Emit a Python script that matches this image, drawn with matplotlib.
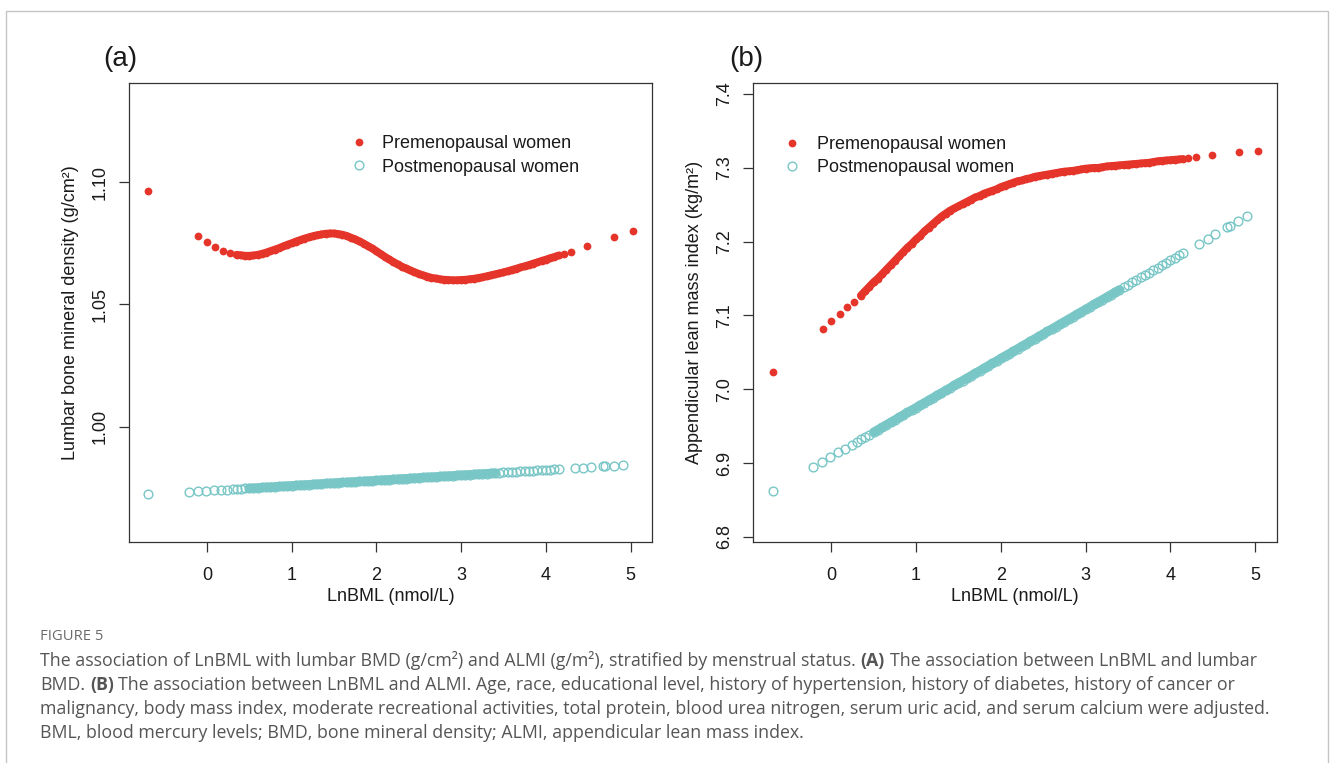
import matplotlib
matplotlib.use('Agg')
import matplotlib.pyplot as plt
from matplotlib.patches import Rectangle
from matplotlib import font_manager

# ---------------- data ----------------
# LnBML sample positions shared by both panels
x_dense = [0.35, 0.40, 0.45, 0.50, 0.55, 0.60, 0.65, 0.70, 0.75, 0.80,
           0.85, 0.90, 0.95, 1.00, 1.05, 1.10, 1.15, 1.20, 1.25, 1.30,
           1.35, 1.40, 1.45, 1.50, 1.55, 1.60, 1.65, 1.70, 1.75, 1.80,
           1.85, 1.90, 1.95, 2.00, 2.05, 2.10, 2.15, 2.20, 2.25, 2.30,
           2.35, 2.40, 2.45, 2.50, 2.55, 2.60, 2.65, 2.70, 2.75, 2.80,
           2.85, 2.90, 2.95, 3.00, 3.05, 3.10, 3.15, 3.20, 3.25, 3.30,
           3.35, 3.40, 3.45, 3.50, 3.55, 3.60, 3.65, 3.70, 3.75, 3.80,
           3.85, 3.90, 3.95, 4.00, 4.05, 4.10, 4.15]
x_pre_left = [-0.69, -0.10, 0.00, 0.10, 0.19, 0.27]
x_pre_right = [4.21, 4.30, 4.49, 4.81, 5.03]
x_post_left = [-0.69, -0.21, -0.105, -0.01, 0.085, 0.167, 0.242, 0.307]
x_post_right = [4.34, 4.44, 4.53, 4.67, 4.70, 4.80, 4.905]

# Panel (a): lumbar BMD
bmd_pre_left = [1.0962, 1.0778, 1.0754, 1.0733, 1.0720, 1.0709]
bmd_pre_dense = [1.0703, 1.0701, 1.0699, 1.0699, 1.0700, 1.0703, 1.0707, 1.0712, 1.0718, 1.0724,
                 1.0730, 1.0737, 1.0744, 1.0750, 1.0757, 1.0763, 1.0769, 1.0774, 1.0779, 1.0783,
                 1.0786, 1.0789, 1.0790, 1.0790, 1.0788, 1.0785, 1.0780, 1.0773, 1.0766, 1.0758,
                 1.0749, 1.0739, 1.0729, 1.0718, 1.0706, 1.0695, 1.0684, 1.0674, 1.0664, 1.0655,
                 1.0647, 1.0639, 1.0632, 1.0625, 1.0619, 1.0614, 1.0609, 1.0606, 1.0603, 1.0601,
                 1.0600, 1.0599, 1.0599, 1.0600, 1.0601, 1.0603, 1.0605, 1.0608, 1.0611, 1.0615,
                 1.0619, 1.0623, 1.0627, 1.0631, 1.0636, 1.0641, 1.0646, 1.0651, 1.0656, 1.0661,
                 1.0667, 1.0672, 1.0678, 1.0683, 1.0689, 1.0694, 1.0700]
bmd_pre_right = [1.0706, 1.0716, 1.0739, 1.0777, 1.0801]
bmd_post_left = [0.97233, 0.97336, 0.97358, 0.97379, 0.97399, 0.97417, 0.97433, 0.97447]
bmd_post_dense = [0.97456, 0.97467, 0.97478, 0.97488, 0.97499, 0.97510, 0.97520, 0.97531, 0.97542, 0.97553,
                  0.97563, 0.97574, 0.97585, 0.97596, 0.97606, 0.97617, 0.97628, 0.97639, 0.97649, 0.97660,
                  0.97671, 0.97681, 0.97692, 0.97703, 0.97714, 0.97724, 0.97735, 0.97746, 0.97757, 0.97767,
                  0.97778, 0.97789, 0.97799, 0.97810, 0.97821, 0.97832, 0.97842, 0.97853, 0.97864, 0.97875,
                  0.97885, 0.97896, 0.97907, 0.97918, 0.97928, 0.97939, 0.97950, 0.97960, 0.97971, 0.97982,
                  0.97993, 0.98003, 0.98014, 0.98025, 0.98036, 0.98046, 0.98057, 0.98068, 0.98078, 0.98089,
                  0.98100, 0.98111, 0.98121, 0.98132, 0.98143, 0.98154, 0.98164, 0.98175, 0.98186, 0.98196,
                  0.98207, 0.98218, 0.98229, 0.98239, 0.98250, 0.98261, 0.98272]
bmd_post_right = [0.98312, 0.98334, 0.98353, 0.98383, 0.98390, 0.98411, 0.98434]

# Panel (b): ALMI
almi_pre_left = [7.023, 7.082, 7.092, 7.102, 7.111, 7.118]
almi_pre_dense = [7.127, 7.133, 7.139, 7.145, 7.150, 7.156, 7.162, 7.168, 7.174, 7.180,
                  7.186, 7.192, 7.197, 7.203, 7.208, 7.214, 7.219, 7.224, 7.229, 7.234,
                  7.238, 7.242, 7.245, 7.248, 7.251, 7.254, 7.257, 7.260, 7.262, 7.265,
                  7.267, 7.269, 7.271, 7.274, 7.276, 7.278, 7.280, 7.282, 7.283, 7.285,
                  7.286, 7.288, 7.289, 7.290, 7.291, 7.292, 7.293, 7.294, 7.295, 7.2955,
                  7.296, 7.297, 7.298, 7.299, 7.2995, 7.300, 7.300, 7.301, 7.302, 7.3025,
                  7.303, 7.3035, 7.304, 7.3045, 7.305, 7.3055, 7.306, 7.3065, 7.307, 7.308,
                  7.309, 7.3095, 7.310, 7.3105, 7.311, 7.3115, 7.312]
almi_pre_right = [7.3135, 7.315, 7.317, 7.321, 7.323]
almi_post_left = [6.8627, 6.8946, 6.9016, 6.9079, 6.9143, 6.9197, 6.9247, 6.9290]
almi_post_dense = [6.9319, 6.9352, 6.9386, 6.9419, 6.9452, 6.9485, 6.9519, 6.9552, 6.9585, 6.9619,
                   6.9652, 6.9685, 6.9718, 6.9752, 6.9785, 6.9818, 6.9852, 6.9885, 6.9918, 6.9951,
                   6.9985, 7.0018, 7.0051, 7.0085, 7.0118, 7.0151, 7.0184, 7.0218, 7.0251, 7.0284,
                   7.0318, 7.0351, 7.0384, 7.0417, 7.0451, 7.0484, 7.0517, 7.0551, 7.0584, 7.0617,
                   7.0650, 7.0684, 7.0717, 7.0750, 7.0784, 7.0817, 7.0850, 7.0883, 7.0917, 7.0950,
                   7.0983, 7.1017, 7.1050, 7.1083, 7.1116, 7.1150, 7.1183, 7.1216, 7.1250, 7.1283,
                   7.1316, 7.1349, 7.1383, 7.1416, 7.1449, 7.1483, 7.1516, 7.1549, 7.1582, 7.1616,
                   7.1649, 7.1682, 7.1716, 7.1749, 7.1782, 7.1815, 7.1849]
almi_post_right = [7.1975, 7.2042, 7.2102, 7.2195, 7.2215, 7.2282, 7.2351]

x_ticks = [0, 1, 2, 3, 4, 5]
bmd_ticks = [1.00, 1.05, 1.10]
bmd_tick_labels = ['1.00', '1.05', '1.10']
almi_ticks = [6.8, 6.9, 7.0, 7.1, 7.2, 7.3, 7.4]
almi_tick_labels = ['6.8', '6.9', '7.0', '7.1', '7.2', '7.3', '7.4']
series_labels = ['Premenopausal women', 'Postmenopausal women']

caption_head = 'FIGURE 5'
cap1a = 'The association of LnBML with lumbar BMD (g/cm\u00b2) and ALMI (g/m\u00b2), stratified by menstrual status.'
cap1b = '(A)'
cap1c = 'The association between LnBML and lumbar'
cap2a = 'BMD.'
cap2b = '(B)'
cap2c = ('The association between LnBML and ALMI. Age, race, educational level, history of hypertension, '
         'history of diabetes, history of cancer or')
cap3 = ('malignancy, body mass index, moderate recreational activities, total protein, blood urea nitrogen, '
        'serum uric acid, and serum calcium were adjusted.')
cap4 = 'BML, blood mercury levels; BMD, bone mineral density; ALMI, appendicular lean mass index.'

# ---------------- styling ----------------
W, H = 1330, 763
plt.rcParams['font.family'] = ['Liberation Sans', 'DejaVu Sans']
RED = '#E5352B'
CYAN = '#79C6C6'
AXC = '#333333'
TXT = '#1a1a1a'

fig = plt.figure(figsize=(W / 100, H / 100), dpi=100)
fig.patch.set_facecolor('white')


def fx(px):
    return px / W


def fy(py):
    return 1 - py / H


XLIM = (-0.919, 5.253)
band_lo, band_hi = 3, 62   # index range of the dense post band drawn as a solid stroke


def panel(left_px, right_px, ylim, yticks, ylabels, ylabel, pre_y, post_y,
          pre_dense, post_dense, letter, letter_px, leg_left_px, leg_top_px, leg_tp):
    ax = fig.add_axes([fx(left_px), fy(542), fx(right_px) - fx(left_px), fy(83) - fy(542)])
    ax.set_xlim(*XLIM)
    ax.set_ylim(*ylim)
    x_pre = x_pre_left + x_dense + x_pre_right
    x_post = x_post_left + x_dense + x_post_right
    # dense parts are so packed that they form solid bands
    ax.plot(x_dense, pre_dense, color=RED, lw=5.6, solid_capstyle='round', zorder=2)
    ax.plot(x_dense[band_lo:band_hi], post_dense[band_lo:band_hi], color=CYAN, lw=6.4,
            solid_capstyle='round', zorder=2)
    h_pre, = ax.plot(x_pre, pre_y, 'o', ms=5.6, color=RED, mew=0, zorder=3)
    h_post, = ax.plot(x_post, post_y, 'o', ms=6.3, mfc='none', mec=CYAN, mew=1.0, zorder=3)
    ax.set_xticks(x_ticks)
    ax.set_xticklabels([str(v) for v in x_ticks])
    ax.set_yticks(yticks)
    ax.set_yticklabels(ylabels)
    ax.tick_params(direction='out', length=7.2, width=0.9, color=AXC, labelsize=13, labelcolor=TXT)
    ax.tick_params(axis='x', pad=11)
    ax.tick_params(axis='y', pad=7.5)
    for lab in ax.get_yticklabels():
        lab.set_rotation(90)
        lab.set_va('center')
        lab.set_ha('right')
    for sp in ax.spines.values():
        sp.set_linewidth(0.9)
        sp.set_color(AXC)
    ax.set_xlabel('LnBML (nmol/L)', fontsize=13, color=TXT, labelpad=3)
    ax.set_ylabel(ylabel, fontsize=13, color=TXT, labelpad=9)
    leg = ax.legend([h_pre, h_post], series_labels, loc='upper left',
                    bbox_to_anchor=(fx(leg_left_px), fy(leg_top_px)), bbox_transform=fig.transFigure,
                    frameon=False, borderpad=0, borderaxespad=0, handlelength=1.0,
                    handletextpad=leg_tp, labelspacing=0.36, fontsize=13, numpoints=1)
    for t in leg.get_texts():
        t.set_color(TXT)
    fig.text(fx(letter_px), fy(59), letter, fontsize=20, va='center', ha='left', color=TXT)
    return ax


panel(129, 652, (0.9529, 1.1405), bmd_ticks, bmd_tick_labels,
      'Lumbar bone mineral density (g/cm\u00b2)',
      bmd_pre_left + bmd_pre_dense + bmd_pre_right,
      bmd_post_left + bmd_post_dense + bmd_post_right,
      bmd_pre_dense, bmd_post_dense, '(a)', 103, 350, 135, 0.77)

panel(753.3, 1276.5, (6.793, 7.415), almi_ticks, almi_tick_labels,
      'Appendicular lean mass index (kg/m\u00b2)',
      almi_pre_left + almi_pre_dense + almi_pre_right,
      almi_post_left + almi_post_dense + almi_post_right,
      almi_pre_dense, almi_post_dense, '(b)', 729, 783, 136, 0.9)

# ---------------- frame & caption ----------------
cap_ax = fig.add_axes([0, 0, 1, 1])
cap_ax.set_xlim(0, 1)
cap_ax.set_ylim(0, 1)
cap_ax.axis('off')
cap_ax.add_patch(Rectangle((fx(6), -0.02), fx(1328) - fx(6), fy(11) + 0.02, fill=False,
                           edgecolor='#c4c4c4', lw=1.0, clip_on=False))

avail = {f.name for f in font_manager.fontManager.ttflist}
cap_font = 'Liberation Sans Narrow' if 'Liberation Sans Narrow' in avail else 'Open Sans'
CAPC = '#555555'

renderer = fig.canvas.get_renderer()
t3 = cap_ax.text(fx(40), fy(714), cap3, fontsize=10, family=cap_font, color=CAPC, va='baseline')
w3 = t3.get_window_extent(renderer).width
cs = 10 * 1232 / w3
t3.set_fontsize(cs)

th = cap_ax.text(fx(40), fy(640), caption_head, fontsize=10, family=cap_font, color='#6a6a6a',
                 va='baseline')
wh = th.get_window_extent(renderer).width
th.set_fontsize(10 * 63 / wh)

gap = 0.27 * cs


def chain(first_text, y_px, pieces):
    t = cap_ax.text(fx(40), fy(y_px), first_text, fontsize=cs, family=cap_font, color=CAPC,
                    va='baseline')
    prev = t
    for s, bold in pieces:
        prev = cap_ax.annotate(s, xy=(1, fy(y_px)), xycoords=(prev, 'axes fraction'),
                               xytext=(gap, 0), textcoords='offset points', va='baseline',
                               ha='left', fontsize=cs, family=cap_font, color=CAPC,
                               fontweight='bold' if bold else 'normal')


chain(cap1a, 666, [(cap1b, True), (cap1c, False)])
chain(cap2a, 690, [(cap2b, True), (cap2c, False)])
cap_ax.text(fx(40), fy(738), cap4, fontsize=cs, family=cap_font, color=CAPC, va='baseline')

fig.savefig('out.png', dpi=100, facecolor='white')
